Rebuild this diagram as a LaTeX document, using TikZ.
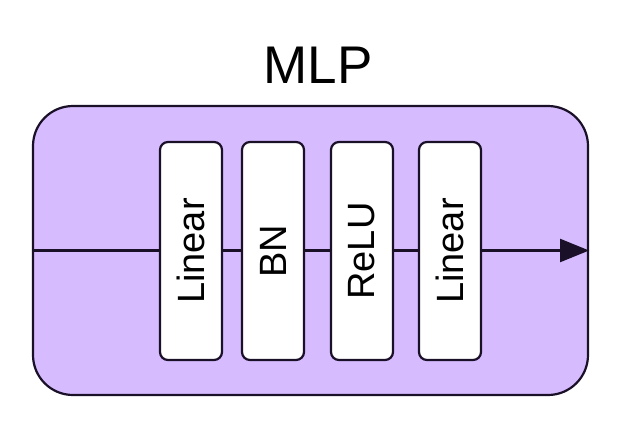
\documentclass[tikz,border=0pt]{standalone}
\usepackage{fontspec}
\setmainfont{Liberation Sans}
\usetikzlibrary{arrows.meta}
\definecolor{lav}{RGB}{214,187,255}
\definecolor{ink}{RGB}{26,16,40}
\tikzset{
  outerbox/.style={draw=ink, line width=2.2pt, fill=lav, rounded corners=40pt, minimum width=555pt, minimum height=289pt, inner sep=0pt},
  layerbox/.style={draw=ink, line width=2.2pt, fill=white, rounded corners=8pt, minimum width=218pt, minimum height=62pt, inner sep=0pt, font=\fontsize{38}{40}\selectfont, rotate=90},
  flow/.style={draw=ink, line width=2.2pt, -{Triangle[length=29pt, width=23pt]}}
}
\begin{document}
\begin{tikzpicture}[x=1pt, y=-1pt]
\useasboundingbox (0,0) rectangle (622,426);
\node[font=\fontsize{53}{56}\selectfont, anchor=base] (title) at (318,83) {MLP};
\node[outerbox] (mlp) at (310.5,250.5) {};
\draw[flow] (mlp.west) -- (mlp.east);
\node[layerbox] (l1) at (191,251) {Linear};
\node[layerbox] (bn) at (273,251) {BN};
\node[layerbox] (relu) at (362,251) {ReLU};
\node[layerbox] (l2) at (450,251) {Linear};
\end{tikzpicture}
\end{document}
